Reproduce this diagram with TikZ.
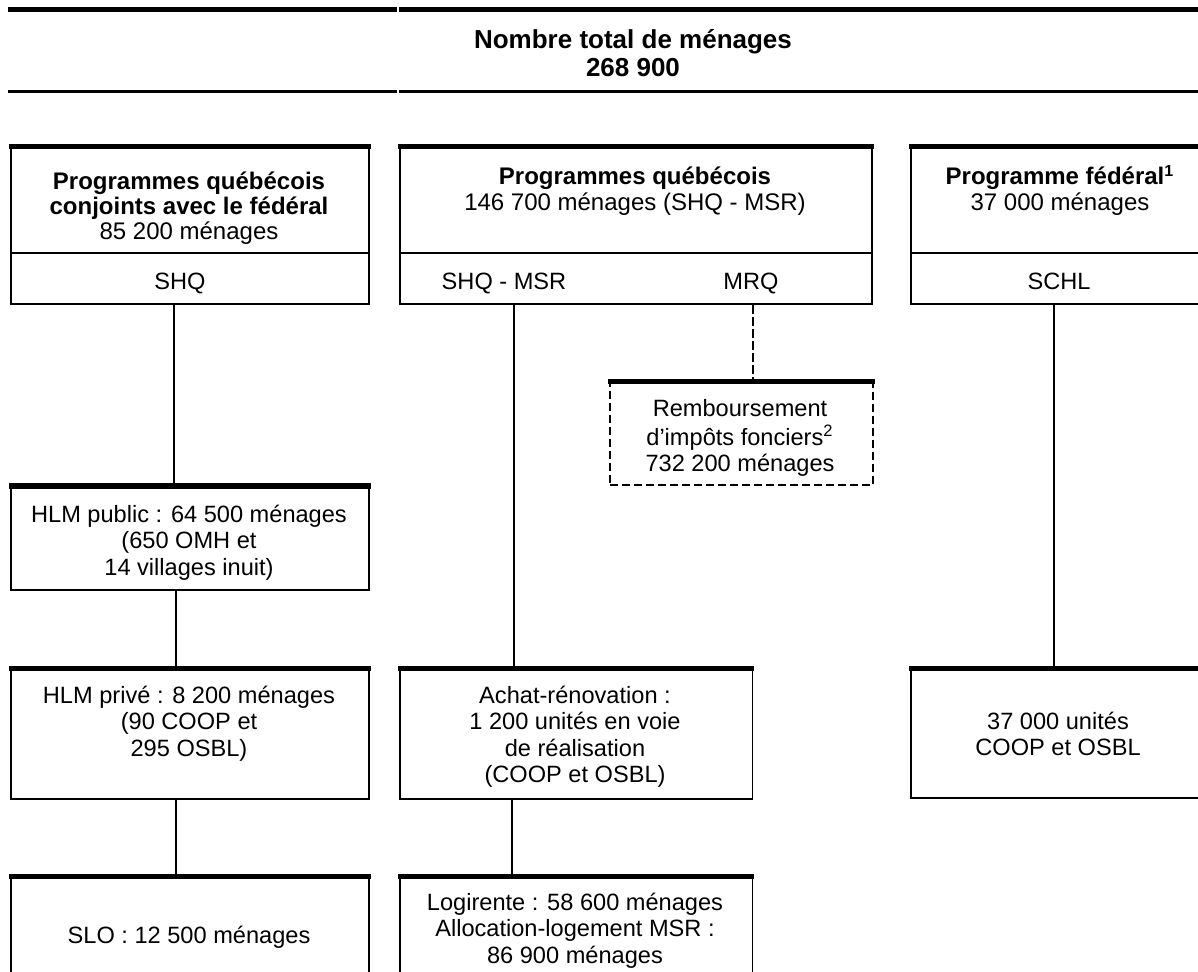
\documentclass[tikz,border=0pt]{standalone}
\usepackage{fontspec}
\setmainfont{Liberation Sans}
\newcommand\ml[1]{\begin{tabular}[t]{@{}c@{}}#1\end{tabular}}
\begin{document}
\begin{tikzpicture}[x=0.5pt,y=-0.5pt,
  box/.style={draw, line width=0.85pt, rectangle, inner sep=0pt, anchor=north west},
  dbox/.style={box, dash pattern=on 4pt off 2pt},
  topbar/.style={line width=2.5pt, shorten <=-0.4pt, shorten >=-0.4pt},
  link/.style={line width=0.75pt},
  dlink/.style={link, dash pattern=on 4.5pt off 1.5pt},
  lbl/.style={inner sep=0pt, anchor=base, font=\fontsize{11.8}{13.25}\selectfont},
  hdr/.style={lbl, font=\fontsize{12}{12.25}\selectfont},
  ttl/.style={lbl, font=\fontsize{13}{14}\selectfont\bfseries}]
\useasboundingbox (0,0) rectangle (1198,972);
\clip (0,0) rectangle (1198,972);

% title band
\draw[line width=2.5pt] (8,9.5) -- (397,9.5);
\draw[line width=2.5pt] (399,9.5) -- (1198,9.5);
\draw[line width=1.5pt] (8,91.3) -- (397,91.3);
\draw[line width=1.5pt] (399,91.3) -- (1198,91.3);
\node[ttl] (title) at (633,49) {\ml{Nombre total de ménages\\268 900}};

% top boxes
\node[box, minimum width=179pt, minimum height=78pt] (b1) at (10,147) {};
\node[box, minimum width=236pt, minimum height=78pt] (b2) at (399,147) {};
\node[box, minimum width=150pt, minimum height=78pt] (b3) at (910,147) {};
\foreach \b in {b1,b2,b3}{
  \draw[topbar] (\b.north west) -- (\b.north east);
  \draw[line width=0.85pt] ([yshift=-53pt]\b.north west) -- ([yshift=-53pt]\b.north east);
}
\node[hdr] (t1) at (189,190) {\ml{\textbf{Programmes québécois}\\\textbf{conjoints avec le fédéral}\\85 200 ménages}};
\node[hdr] (t2) at (635,185) {\ml{\textbf{Programmes québécois}\\146 700 ménages (SHQ - MSR)}};
\node[hdr] (t3) at (1060,185) {\ml{\textbf{Programme fédéral\textsuperscript{1}}\\37 000 ménages}};
\node[lbl] (shq) at (180,290) {SHQ};
\node[lbl] (shqmsr) at (504,290) {SHQ - MSR};
\node[lbl] (mrq) at (751,290) {MRQ};
\node[lbl] (schl) at (1059,290) {SCHL};

% dashed box
\node[dbox, minimum width=131.5pt, minimum height=51pt] (remb) at (609,382) {};
\draw[topbar] (remb.north west) -- (remb.north east);
\node[lbl] (tremb) at (740,417) {\ml{Remboursement\\d’impôts fonciers\textsuperscript{2}\\732 200 ménages}};

% lower boxes
\node[box, minimum width=179pt, minimum height=51.5pt] (hpub) at (10,486) {};
\node[box, minimum width=179pt, minimum height=65pt] (hpriv) at (10,668) {};
\node[box, minimum width=176.25pt, minimum height=65pt] (achat) at (399,668) {};
\node[box, minimum width=150pt, minimum height=64.5pt] (fed) at (910,668) {};
\node[box, minimum width=179pt, minimum height=75pt] (slo) at (10,876) {};
\node[box, minimum width=176.25pt, minimum height=75pt] (logi) at (399,876) {};
\foreach \b in {hpub,hpriv,achat,fed,slo,logi}{
  \draw[topbar] (\b.north west) -- (\b.north east);
}
\node[lbl] (thpub) at (189,522) {\ml{HLM public : 64 500 ménages\\(650 OMH et\\14 villages inuit)}};
\node[lbl] (thpriv) at (189,703) {\ml{HLM privé : 8 200 ménages\\(90 COOP et\\295 OSBL)}};
\node[lbl] (tachat) at (575,703) {\ml{Achat-rénovation :\\1 200 unités en voie\\de réalisation\\(COOP et OSBL)}};
\node[lbl] (tfed) at (1058,729) {\ml{37 000 unités\\COOP et OSBL}};
\node[lbl] (tslo) at (189,943) {SLO : 12 500 ménages};
\node[lbl] (tlogi) at (575,910) {\ml{Logirente : 58 600 ménages\\Allocation-logement MSR :\\86 900 ménages}};

% connector columns
\coordinate (k1) at (174,0);
\coordinate (k2) at (176,0);
\coordinate (k3) at (514,0);
\coordinate (k4) at (512,0);
\coordinate (k5) at (753,0);
\coordinate (k6) at (1054,0);

\draw[link] (b1.south -| k1) -- (hpub.north -| k1);
\draw[link] (hpub.south -| k2) -- (hpriv.north -| k2);
\draw[link] (hpriv.south -| k2) -- (slo.north -| k2);
\draw[link] (b2.south -| k3) -- (achat.north -| k3);
\draw[link] (achat.south -| k4) -- (logi.north -| k4);
\draw[dlink] (b2.south -| k5) -- (remb.north -| k5);
\draw[link] (b3.south -| k6) -- (fed.north -| k6);
\end{tikzpicture}
\end{document}
